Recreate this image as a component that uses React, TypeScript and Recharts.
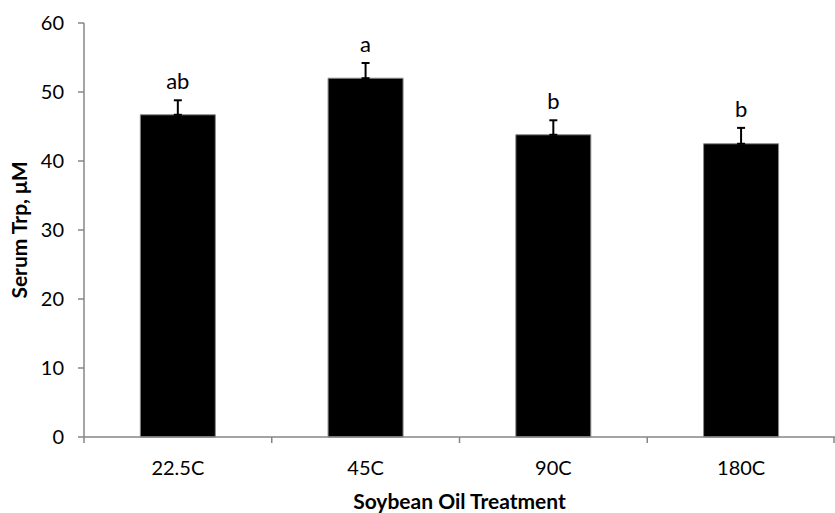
import React from 'react';
import { BarChart, Bar, XAxis, YAxis, ErrorBar, LabelList, Label } from 'recharts';

const categories = ['22.5C', '45C', '90C', '180C'];
const means = [46.7, 52.0, 43.8, 42.5];
const sems = [2.1, 2.2, 2.1, 2.3];
const letters = ['ab', 'a', 'b', 'b'];
const yTicks = [0, 10, 20, 30, 40, 50, 60];

const data = categories.map((name, i) => ({
    name,
    value: means[i],
    err: [0, sems[i]],
    letter: letters[i],
}));

const FONT = 'Lato, "Open Sans", sans-serif';
const AXIS = '#868686';
const CHART_W = 835;
const CHART_H = 513;
const PLOT_LEFT = 84;
const BAND = (CHART_W - PLOT_LEFT) / categories.length;

const CategoryTick = (props: any) => {
    const { x, y, payload, index } = props;
    const axisY = y - 8;
    return (
        <g>
            <line x1={x - BAND / 2} y1={axisY} x2={x - BAND / 2} y2={axisY + 6} stroke={AXIS} strokeWidth={1.5} />
            {index === categories.length - 1 && (
                <line x1={x + BAND / 2 - 1} y1={axisY} x2={x + BAND / 2 - 1} y2={axisY + 6} stroke={AXIS} strokeWidth={1.5} />
            )}
            <text x={x} y={axisY + 38} textAnchor="middle" fontFamily={FONT} fontSize={20} fill="#000">
                {payload.value}
            </text>
        </g>
    );
};

const LetterLabel = (props: any) => {
    const { x, y, width, height, value, index } = props;
    const pxPerUnit = height / means[index];
    const errTop = y - sems[index] * pxPerUnit;
    return (
        <text x={x + width / 2} y={errTop - 11} textAnchor="middle" fontFamily={FONT} fontSize={22} fill="#000">
            {value}
        </text>
    );
};

export default function App() {
    return (
        <div style={{ position: 'absolute', left: 0, top: 0, background: '#fff' }}>
            <BarChart
                width={CHART_W}
                height={CHART_H}
                data={data}
                margin={{ top: 23, right: 0, left: 0, bottom: 0 }}
                barCategoryGap="30%"
            >
                <XAxis
                    dataKey="name"
                    height={76}
                    axisLine={{ stroke: AXIS, strokeWidth: 1.5 }}
                    tickLine={false}
                    tick={<CategoryTick />}
                    interval={0}
                >
                    <Label
                        value="Soybean Oil Treatment"
                        position="insideBottom"
                        offset={4}
                        style={{ fontFamily: FONT, fontSize: 21, fontWeight: 700, fill: '#000' }}
                    />
                </XAxis>
                <YAxis
                    width={PLOT_LEFT}
                    domain={[0, 60]}
                    ticks={yTicks}
                    interval={0}
                    axisLine={{ stroke: AXIS, strokeWidth: 1.5 }}
                    tickLine={{ stroke: AXIS, strokeWidth: 1.5 }}
                    tickSize={6}
                    tickMargin={14}
                    tick={{ fontFamily: FONT, fontSize: 20, fill: '#000' }}
                >
                    <Label
                        value="Serum Trp, μM"
                        angle={-90}
                        position="insideLeft"
                        offset={20}
                        style={{ textAnchor: 'middle', fontFamily: FONT, fontSize: 21, fontWeight: 700, fill: '#000' }}
                    />
                </YAxis>
                <Bar dataKey="value" fill="#000" stroke="#8a8a8a" strokeWidth={1} isAnimationActive={false}>
                    <ErrorBar dataKey="err" width={4} stroke="#000" strokeWidth={2} direction="y" />
                    <LabelList dataKey="letter" content={<LetterLabel />} />
                </Bar>
            </BarChart>
        </div>
    );
}
